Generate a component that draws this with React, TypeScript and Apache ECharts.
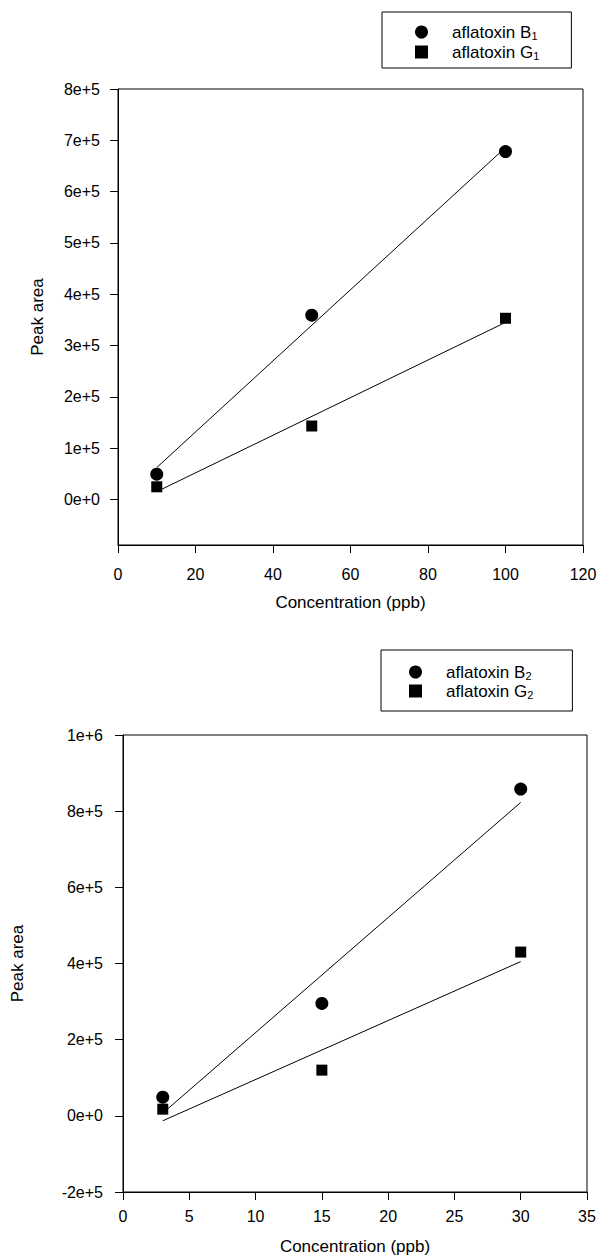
import React, { useEffect, useRef } from "react";
import * as echarts from "echarts";

// ---- data ----
const X1 = [10, 50, 100];
const B1 = [49000, 359000, 678000];
const G1 = [24500, 143000, 353000];
const FIT_X1 = [10, 100];
const FIT_B1 = [62000, 686000];
const FIT_G1 = [15000, 345000];

const X2 = [3, 15, 30];
const B2 = [49000, 295000, 858000];
const G2 = [17500, 120000, 430000];
const FIT_X2 = [3, 30];
const FIT_B2 = [7000, 823000];
const FIT_G2 = [-13000, 405000];

const Y_TICKS1 = [0, 100000, 200000, 300000, 400000, 500000, 600000, 700000, 800000];
const Y_TICKS2 = [-200000, 0, 200000, 400000, 600000, 800000, 1000000];

const NAMES1 = ["aflatoxin B1", "aflatoxin G1"];
const NAMES2 = ["aflatoxin B2", "aflatoxin G2"];

const FONT = "'Liberation Sans', Arial, sans-serif";

function sci(v: number): string {
  if (v === 0) return "0e+0";
  const e = Math.floor(Math.log10(Math.abs(v)) + 1e-9);
  const m = Math.round((v / Math.pow(10, e)) * 100) / 100;
  return `${m}e+${e}`;
}

const zip = (xs: number[], ys: number[]) => xs.map((x, i) => [x, ys[i]]);

export default function App() {
  const ref = useRef<HTMLDivElement>(null);
  useEffect(() => {
    document.body.style.margin = "0";
    const chart = echarts.init(ref.current!, undefined, { renderer: "svg" });
    const axisCommon = {
      axisLine: { show: true, onZero: false, lineStyle: { color: "#000", width: 1 } },
      axisTick: { show: true, length: 8, lineStyle: { color: "#000" } },
      splitLine: { show: false },
      nameTextStyle: { color: "#000", fontSize: 17, fontFamily: FONT },
    };
    const labelStyle = { color: "#000", fontSize: 16, fontFamily: FONT };
    const legendCommon = {
      orient: "vertical",
      borderColor: "#000",
      borderWidth: 1,
      itemWidth: 13,
      itemHeight: 13,
      itemStyle: { color: "#000", opacity: 1 },
      formatter: (n: string) => "{gap|}" + n.replace(/(\d)$/, "{sub|$1}"),
      textStyle: {
        color: "#000",
        fontSize: 17,
        lineHeight: 18,
        fontFamily: FONT,
        rich: {
          gap: { width: 19 },
          sub: { fontSize: 11, lineHeight: 11, verticalAlign: "bottom", fontFamily: FONT, color: "#000" },
        },
      },
    };
    const fitLine = (xi: number, xs: number[], ys: number[]) => ({
      type: "line",
      xAxisIndex: xi,
      yAxisIndex: xi,
      data: zip(xs, ys),
      showSymbol: false,
      lineStyle: { color: "#000", width: 1 },
      silent: true,
      z: 1,
    });
    const points = (xi: number, name: string, xs: number[], ys: number[], symbol: string, size: number) => ({
      name,
      type: "scatter",
      xAxisIndex: xi,
      yAxisIndex: xi,
      data: zip(xs, ys),
      symbol,
      symbolSize: size,
      itemStyle: { color: "#000", opacity: 1 },
      z: 3,
    });
    chart.setOption({
      animation: false,
      backgroundColor: "#fff",
      grid: [
        { left: 118, top: 89, width: 465, height: 456, show: true, borderColor: "#000", borderWidth: 1 },
        { left: 123, top: 735, width: 464, height: 457, show: true, borderColor: "#000", borderWidth: 1 },
      ],
      legend: [
        {
          ...legendCommon,
          left: 382,
          top: 12,
          padding: [11, 32, 7, 33],
          itemGap: 2,
          data: [
            { name: NAMES1[0], icon: "circle" },
            { name: NAMES1[1], icon: "rect" },
          ],
        },
        {
          ...legendCommon,
          left: 381,
          top: 650,
          padding: [13, 39, 11, 28],
          itemGap: 1,
          data: [
            { name: NAMES2[0], icon: "circle" },
            { name: NAMES2[1], icon: "rect" },
          ],
        },
      ],
      xAxis: [
        {
          ...axisCommon,
          gridIndex: 0,
          type: "value",
          min: 0,
          max: 120,
          interval: 20,
          name: "Concentration (ppb)",
          nameLocation: "middle",
          nameGap: 49,
          axisLabel: { ...labelStyle, margin: 21 },
        },
        {
          ...axisCommon,
          gridIndex: 1,
          type: "value",
          min: 0,
          max: 35,
          interval: 5,
          name: "Concentration (ppb)",
          nameLocation: "middle",
          nameGap: 46,
          axisLabel: { ...labelStyle, margin: 16 },
        },
      ],
      yAxis: [
        {
          ...axisCommon,
          gridIndex: 0,
          type: "value",
          min: -89000,
          max: 800000,
          name: "Peak area",
          nameLocation: "middle",
          nameGap: 72,
          axisTick: { ...axisCommon.axisTick, customValues: Y_TICKS1 },
          axisLabel: { ...labelStyle, margin: 18, customValues: Y_TICKS1, formatter: (v: number) => sci(v) },
        },
        {
          ...axisCommon,
          gridIndex: 1,
          type: "value",
          min: Y_TICKS2[0],
          max: Y_TICKS2[Y_TICKS2.length - 1],
          interval: 200000,
          name: "Peak area",
          nameLocation: "middle",
          nameGap: 97,
          axisLabel: { ...labelStyle, margin: 20, formatter: (v: number) => sci(v) },
        },
      ],
      series: [
        fitLine(0, FIT_X1, FIT_B1),
        fitLine(0, FIT_X1, FIT_G1),
        points(0, NAMES1[0], X1, B1, "circle", 13),
        points(0, NAMES1[1], X1, G1, "rect", 11),
        fitLine(1, FIT_X2, FIT_B2),
        fitLine(1, FIT_X2, FIT_G2),
        points(1, NAMES2[0], X2, B2, "circle", 13),
        points(1, NAMES2[1], X2, G2, "rect", 11),
      ],
    });
    return () => chart.dispose();
  }, []);
  return <div ref={ref} style={{ width: 602, height: 1258 }} />;
}
